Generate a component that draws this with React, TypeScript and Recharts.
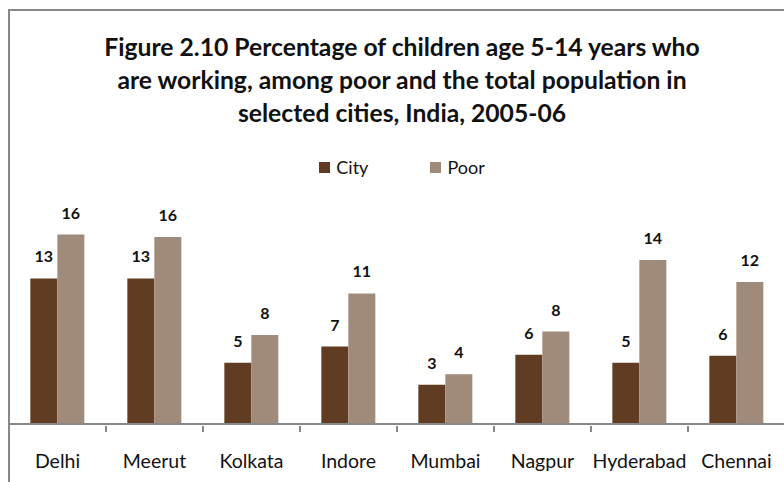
import { BarChart, Bar, XAxis, YAxis, LabelList } from "recharts";

const cities = ["Delhi", "Meerut", "Kolkata", "Indore", "Mumbai", "Nagpur", "Hyderabad", "Chennai"];
const cityValues = [12.6, 12.6, 5.3, 6.7, 3.4, 6.0, 5.3, 5.9];
const poorValues = [16.4, 16.2, 7.7, 11.3, 4.3, 8.0, 14.2, 12.3];
const titleLines = [
  "Figure 2.10 Percentage of children age 5-14 years who",
  "are working, among poor and the total population in",
  "selected cities, India, 2005-06",
];

const data = cities.map((name, i) => ({ name, City: cityValues[i], Poor: poorValues[i] }));

const COLORS = { City: "#603c22", Poor: "#a08b7a" };
const FONT = "Lato, 'Open Sans', sans-serif";
const AXIS_GRAY = "#878787";

const CHART_W = 786;
const MARGIN = { top: 193, right: 1, bottom: 0, left: 9 };
const BAND = (CHART_W - MARGIN.left - MARGIN.right) / cities.length;

// category label plus the separator tick on the right edge of each band
const CategoryTick = ({ x, y, payload }: any) => (
  <g>
    <line x1={x + BAND / 2} x2={x + BAND / 2} y1={y - 6} y2={y} stroke={AXIS_GRAY} strokeWidth={2} />
    <text x={x} y={y + 36} textAnchor="middle" fontFamily={FONT} fontSize={19.5} fill="#111">
      {payload.value}
    </text>
  </g>
);

const roundLabel = (v: any) => Math.round(Number(v));

export default function App() {
  return (
    <div style={{ position: "fixed", left: 0, top: 0, width: 784, height: 482, overflow: "hidden", background: "#fff" }}>
      <div
        style={{
          position: "absolute",
          left: 0,
          top: 30,
          width: 804,
          textAlign: "center",
          fontFamily: FONT,
          fontWeight: 700,
          fontSize: 24.7,
          lineHeight: "33px",
          color: "#111",
        }}
      >
        {titleLines.map((t) => (
          <div key={t}>{t}</div>
        ))}
      </div>
      <div
        style={{
          position: "absolute",
          top: 156,
          left: 0,
          width: 804,
          display: "flex",
          justifyContent: "center",
          gap: 62,
          fontFamily: FONT,
          fontSize: 18,
          color: "#111",
        }}
      >
        {(["City", "Poor"] as const).map((k) => (
          <div key={k} style={{ display: "flex", alignItems: "center" }}>
            <span style={{ width: 11, height: 11, background: COLORS[k], marginRight: 6, display: "inline-block" }} />
            {k}
          </div>
        ))}
      </div>
      <div style={{ position: "absolute", left: 0, top: 0 }}>
        <BarChart width={CHART_W} height={482} data={data} margin={MARGIN} barCategoryGap="22%" barGap={0}>
          <XAxis
            dataKey="name"
            axisLine={{ stroke: AXIS_GRAY, strokeWidth: 2 }}
            tickLine={false}
            tick={<CategoryTick />}
            interval={0}
            height={58}
          />
          <YAxis hide domain={[0, 20]} />
          <Bar dataKey="City" fill={COLORS.City} isAnimationActive={false}>
            <LabelList dataKey="City" position="top" offset={16} formatter={roundLabel} fill="#111" fontFamily={FONT} fontWeight={700} fontSize={16} />
          </Bar>
          <Bar dataKey="Poor" fill={COLORS.Poor} isAnimationActive={false}>
            <LabelList dataKey="Poor" position="top" offset={16} formatter={roundLabel} fill="#111" fontFamily={FONT} fontWeight={700} fontSize={16} />
          </Bar>
        </BarChart>
      </div>
      {/* chart frame, cut off at the right and bottom like the original */}
      <div style={{ position: "absolute", left: 8, top: 9, width: 776, height: 2, background: AXIS_GRAY }} />
      <div style={{ position: "absolute", left: 8, top: 9, width: 2, height: 473, background: AXIS_GRAY }} />
    </div>
  );
}
